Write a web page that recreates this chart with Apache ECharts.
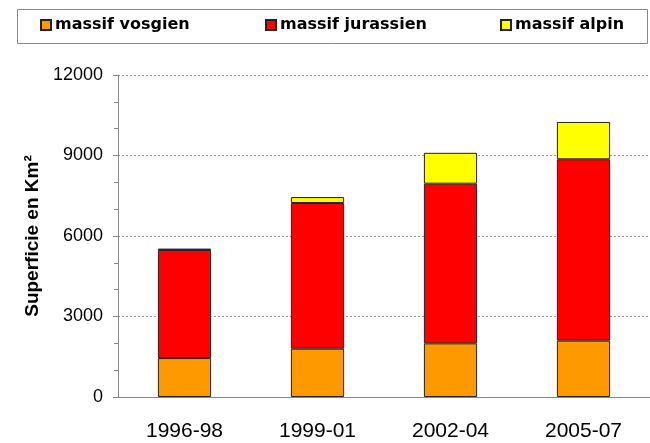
<!DOCTYPE html>
<html>
<head>
<meta charset="utf-8">
<script src="https://cdn.jsdelivr.net/npm/echarts@6/dist/echarts.min.js"></script>
<style>html,body{margin:0;padding:0;background:#fff}#c{width:650px;height:443px}</style>
</head>
<body>
<div id="c"></div>
<script>
const categories = ['1996-98', '1999-01', '2002-04', '2005-07'];
const vosgien = [1450, 1800, 2000, 2100];
const jurassien = [4030, 5430, 5950, 6760];
const alpin = [50, 220, 1150, 1390];
const seriesNames = ['massif vosgien', 'massif jurassien', 'massif alpin'];
const yTicks = [0, 3000, 6000, 9000, 12000];

const colors = ['#FF9900', '#FF0000', '#FFFF00'];
const values = [vosgien, jurassien, alpin];
const legendLefts = [40, 265, 500];

const chart = echarts.init(document.getElementById('c'), null, {renderer: 'canvas'});
chart.setOption({
  animation: false,
  backgroundColor: '#fff',
  graphic: [{
    type: 'rect', left: 15, top: 7,
    shape: {width: 630, height: 34},
    style: {fill: 'none', stroke: '#888', lineWidth: 1}
  }],
  legend: seriesNames.map((n, i) => ({
    data: [n], left: legendLefts[i], top: 17, padding: 0,
    itemWidth: 10, itemHeight: 10, itemGap: 4, icon: 'rect',
    textStyle: {fontFamily: 'DejaVu Sans', fontWeight: 'bold', fontSize: 16, color: '#000', padding: [0, 0, 0, -1]},
    selectedMode: false
  })),
  grid: {left: 118, width: 536, top: 75, bottom: 46},
  xAxis: {
    type: 'category', data: categories,
    axisLine: {lineStyle: {color: '#888'}},
    axisTick: {length: 6, lineStyle: {color: '#888'}},
    axisLabel: {color: '#000', fontSize: 21, margin: 24, fontFamily: 'Liberation Sans, Arial'}
  },
  yAxis: {
    type: 'value', min: yTicks[0], max: yTicks[yTicks.length - 1], interval: 3000,
    name: 'Superficie en Km²', nameLocation: 'middle', nameGap: 70, nameRotate: 90,
    nameTextStyle: {fontFamily: 'Liberation Sans, Arial', fontWeight: 'bold', fontSize: 19, color: '#000'},
    axisLine: {show: true, lineStyle: {color: '#888'}},
    axisTick: {show: true, length: 5, lineStyle: {color: '#888'}},
    minorTick: {show: true, splitNumber: 3, length: 4, lineStyle: {color: '#888'}},
    axisLabel: {color: '#000', fontSize: 18, margin: 15, fontFamily: 'Liberation Sans, Arial',
      formatter: v => String(v)},
    splitLine: {show: true, lineStyle: {type: [2, 2], color: '#999'}}
  },
  series: seriesNames.map((n, i) => ({
    name: n, type: 'bar', stack: 'total', data: values[i],
    barWidth: '40%',
    itemStyle: {color: colors[i], borderColor: '#222', borderWidth: 1}
  }))
});
</script>
</body>
</html>
